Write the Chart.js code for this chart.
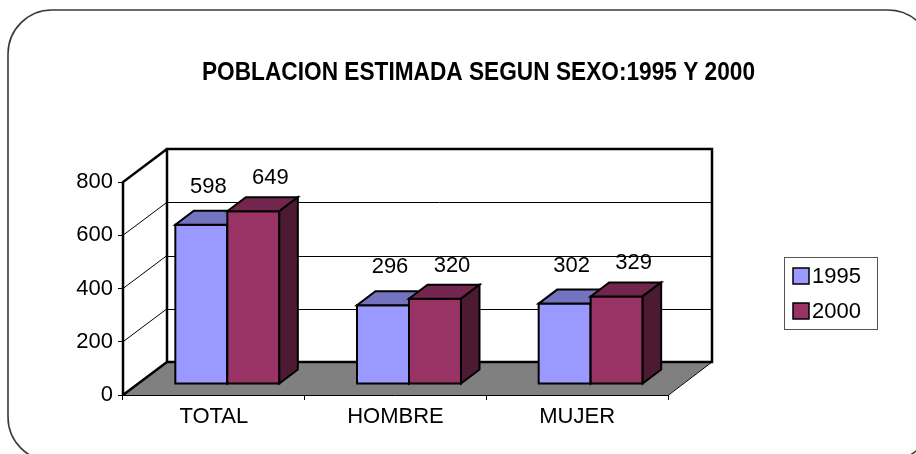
<!DOCTYPE html>
<html><head><meta charset="utf-8">
<script src="https://cdn.jsdelivr.net/npm/chart.js@4"></script>
<style>html,body{margin:0;padding:0;background:#fff}canvas{display:block}</style>
</head><body>
<canvas id="c" width="916" height="454"></canvas>
<script>
const categories = ['TOTAL', 'HOMBRE', 'MUJER'];
const seriesNames = ['1995', '2000'];
const values1995 = [598, 296, 302];
const values2000 = [649, 320, 329];
const yTicks = [0, 200, 400, 600, 800];
const chartTitle = 'POBLACION ESTIMADA SEGUN SEXO:1995 Y 2000';

const FONT = "'Liberation Sans', Arial, sans-serif";
const COLORS = [
  {front: '#9999FF', top: '#7373BF', side: '#4D4D80'},
  {front: '#993366', top: '#73264D', side: '#4D1A33'}
];
const DEPTH = {x: 44, y: -33};
const BAR_SHIFT = {x: 13.5, y: -11};
const BAR_DEPTH = {x: 18.5, y: -14};
const LABEL_OFF = [{x: 7, y: -38}, {x: 17, y: -33}];

function drawBox(ctx, x0, x1, yTop, yBot, c) {
  const bx = BAR_DEPTH.x, by = BAR_DEPTH.y;
  ctx.lineWidth = 2; ctx.strokeStyle = '#000'; ctx.lineJoin = 'miter';
  ctx.beginPath(); ctx.rect(x0, yTop, x1 - x0, yBot - yTop);
  ctx.fillStyle = c.front; ctx.fill(); ctx.stroke();
  ctx.beginPath(); ctx.moveTo(x0, yTop); ctx.lineTo(x1, yTop); ctx.lineTo(x1 + bx, yTop + by); ctx.lineTo(x0 + bx, yTop + by); ctx.closePath();
  ctx.fillStyle = c.top; ctx.fill(); ctx.stroke();
  ctx.beginPath(); ctx.moveTo(x1, yTop); ctx.lineTo(x1 + bx, yTop + by); ctx.lineTo(x1 + bx, yBot + by); ctx.lineTo(x1, yBot); ctx.closePath();
  ctx.fillStyle = c.side; ctx.fill(); ctx.stroke();
}

const plugin3d = {
  id: 'plot3d',
  beforeDraw(chart) {
    const ctx = chart.ctx;
    ctx.save();
    ctx.fillStyle = '#fff'; ctx.fillRect(0, 0, chart.width, chart.height);
    ctx.beginPath(); ctx.roundRect(8, 10, 924, 451, 44);
    ctx.lineWidth = 1.6; ctx.strokeStyle = '#3a3a3a'; ctx.stroke();
    ctx.fillStyle = '#000'; ctx.font = 'bold 25px ' + FONT;
    ctx.textAlign = 'center'; ctx.textBaseline = 'middle';
    ctx.fillText(chartTitle, 478.5, 73, 553);
    ctx.restore();
  },
  beforeDatasetsDraw(chart) {
    const ctx = chart.ctx, a = chart.chartArea, ys = chart.scales.y;
    const L = a.left, R = a.right, T = a.top, B = a.bottom, dx = DEPTH.x, dy = DEPTH.y;
    ctx.save();
    ctx.lineWidth = 1; ctx.strokeStyle = '#000';
    yTicks.forEach(v => {
      if (v === ys.min || v === ys.max) return;
      const y0 = ys.getPixelForValue(v);
      const yb = Math.round(y0 + dy) + 0.5;
      ctx.beginPath(); ctx.moveTo(L + dx, yb); ctx.lineTo(R + dx, yb); ctx.stroke();
      ctx.beginPath(); ctx.moveTo(L, y0); ctx.lineTo(L + dx, y0 + dy); ctx.stroke();
    });
    ctx.beginPath(); ctx.moveTo(L, B); ctx.lineTo(R, B); ctx.lineTo(R + dx, B + dy); ctx.lineTo(L + dx, B + dy); ctx.closePath();
    ctx.fillStyle = '#808080'; ctx.fill();
    ctx.lineWidth = 1; ctx.strokeStyle = '#000';
    ctx.beginPath(); ctx.moveTo(L, B + 0.5); ctx.lineTo(R, B + 0.5); ctx.lineTo(R + dx, B + dy); ctx.stroke();
    ctx.lineWidth = 2.5;
    ctx.beginPath(); ctx.moveTo(L, B); ctx.lineTo(L + dx, B + dy); ctx.lineTo(R + dx, B + dy); ctx.lineTo(R + dx, T + dy); ctx.lineTo(L + dx, T + dy); ctx.lineTo(L + dx, B + dy); ctx.stroke();
    ctx.beginPath(); ctx.moveTo(L, B); ctx.lineTo(L, T); ctx.lineTo(L + dx, T + dy); ctx.stroke();
    [0, 1].forEach(di => {
      const meta = chart.getDatasetMeta(di);
      meta.data.forEach(el => {
        const p = el.getProps(['x', 'y', 'base', 'width'], true);
        const x0 = p.x - p.width / 2 + BAR_SHIFT.x, x1 = p.x + p.width / 2 + BAR_SHIFT.x;
        drawBox(ctx, x0, x1, p.y + BAR_SHIFT.y, p.base + BAR_SHIFT.y, COLORS[di]);
      });
    });
    ctx.restore();
    return false;
  },
  afterDraw(chart) {
    const ctx = chart.ctx;
    ctx.save();
    ctx.fillStyle = '#000'; ctx.font = '22px ' + FONT;
    ctx.textAlign = 'center'; ctx.textBaseline = 'middle';
    [0, 1].forEach(di => {
      const meta = chart.getDatasetMeta(di);
      const vals = chart.data.datasets[di].data;
      meta.data.forEach((el, i) => {
        const p = el.getProps(['x', 'y'], true);
        ctx.fillText(String(vals[i]), p.x + BAR_SHIFT.x + LABEL_OFF[di].x, p.y + BAR_SHIFT.y + LABEL_OFF[di].y);
      });
    });
    ctx.lineWidth = 1; ctx.strokeStyle = '#555';
    ctx.strokeRect(784.5, 257.5, 93, 72);
    ctx.textAlign = 'left';
    seriesNames.forEach((n, i) => {
      const y = 268 + i * 35;
      ctx.fillStyle = COLORS[i].front; ctx.fillRect(793, y, 16, 16);
      ctx.lineWidth = 1.5; ctx.strokeStyle = '#000'; ctx.strokeRect(793, y, 16, 16);
      ctx.fillStyle = '#000'; ctx.fillText(n, 812, y + 9);
    });
    ctx.restore();
  }
};

new Chart(document.getElementById('c').getContext('2d'), {
  type: 'bar',
  data: {
    labels: categories,
    datasets: [
      {label: seriesNames[0], data: values1995, backgroundColor: COLORS[0].front, barPercentage: 1, categoryPercentage: 104 / 181.67},
      {label: seriesNames[1], data: values2000, backgroundColor: COLORS[1].front, barPercentage: 1, categoryPercentage: 104 / 181.67}
    ]
  },
  options: {
    responsive: false, animation: false, devicePixelRatio: 1,
    layout: {padding: {left: 23, right: 248, top: 182, bottom: 19}},
    plugins: {legend: {display: false}, title: {display: false}, tooltip: {enabled: false}},
    scales: {
      x: {
        grid: {display: true, drawOnChartArea: false, tickLength: 5, color: '#000', offset: true},
        border: {display: false},
        ticks: {font: {family: FONT, size: 22}, color: '#000', padding: 4},
        afterFit(s) { s.height = 40; }
      },
      y: {
        min: 0, max: 800,
        afterBuildTicks(s) { s.ticks = yTicks.map(v => ({value: v})); },
        ticks: {font: {family: FONT, size: 22}, color: '#000', padding: 5},
        grid: {drawOnChartArea: false, tickLength: 5, color: '#000'},
        border: {display: false},
        afterFit(s) { s.width = 100; }
      }
    }
  },
  plugins: [plugin3d]
});
</script>
</body></html>
